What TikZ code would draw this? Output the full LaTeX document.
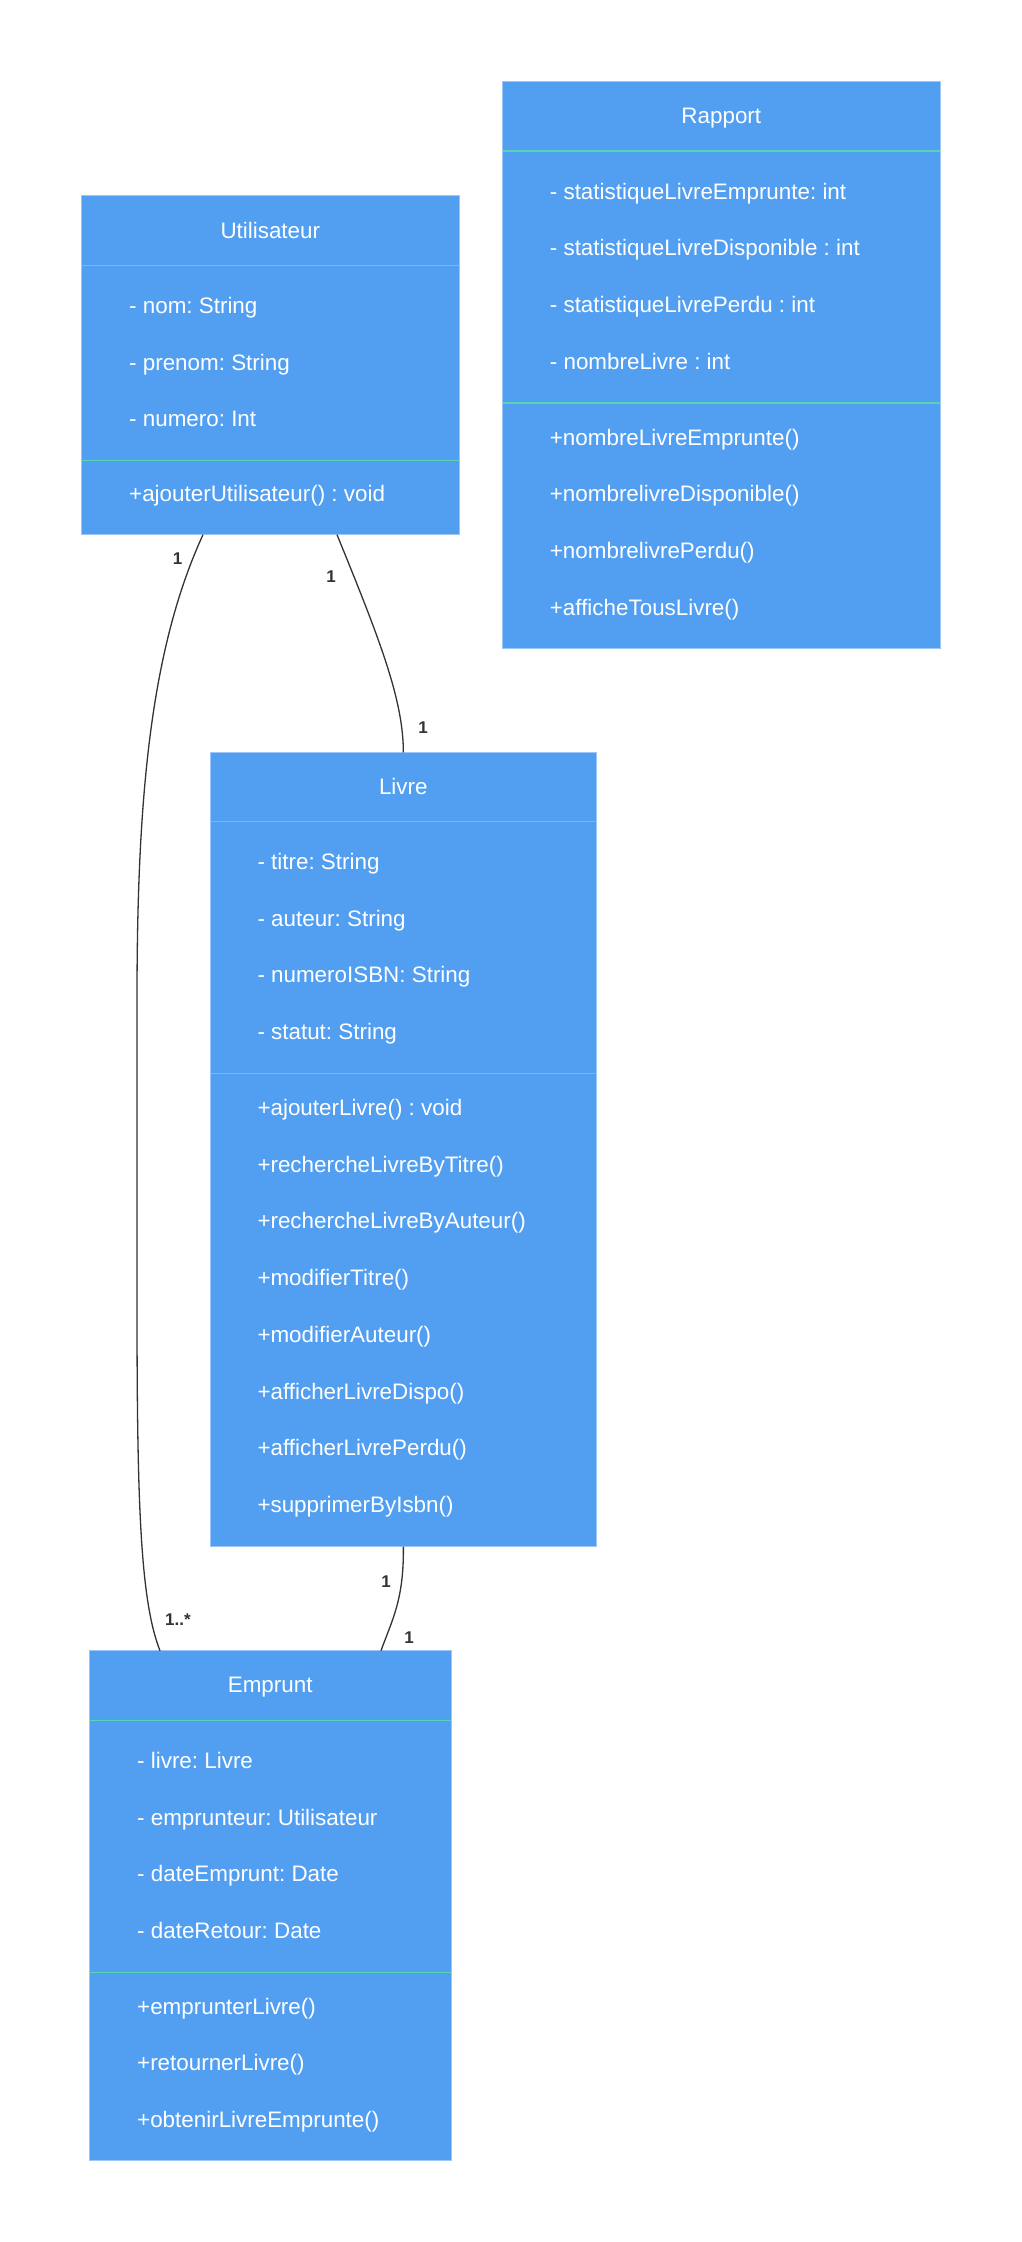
\documentclass[tikz,border=0pt]{standalone}
\usepackage{fontspec}
\setmainfont{Liberation Sans}
\frenchspacing
\definecolor{boxfill}{HTML}{529FF2}
\definecolor{boxline}{HTML}{9CC6F6}
\definecolor{sepline}{HTML}{56D3B4}
\definecolor{edgec}{HTML}{333333}
\begin{document}
\begin{tikzpicture}[x=1pt,y=-1pt,
  classbox/.style={draw=boxline, fill=boxfill, line width=0.8pt, inner sep=0pt, outer sep=0pt, anchor=north west},
  sepl/.style={draw=sepline, line width=1.3pt},
  ctitle/.style={text=white, font=\fontsize{22.4pt}{26pt}\selectfont, inner sep=0pt, anchor=base},
  member/.style={text=white, font=\fontsize{22.4pt}{26pt}\selectfont, inner sep=0pt, anchor=base west},
  conn/.style={draw=edgec, line width=1.3pt},
  mult/.style={text=edgec, font=\bfseries\fontsize{17pt}{20pt}\selectfont, inner sep=0pt}]
\useasboundingbox[fill=white] (0,0) rectangle (1021,2242);

% ---------------- Utilisateur ----------------
\node[classbox, minimum width=377.3pt, minimum height=339pt] (util) at (81.7,195.7) {};
\draw[sepl] (82.2,265.7) -- (458.5,265.7);
\draw[sepl] (82.2,460.7) -- (458.5,460.7);
\node[ctitle] (utilT) at (270.3,238.3) {Utilisateur};
\node[member] (utilA1) at (129,313.3) {- nom: String};
\node[member] (utilA2) at (129,370) {- prenom: String};
\node[member] (utilA3) at (129,426.7) {- numero: Int};
\node[member] (utilM1) at (129,501.7) {+ajouterUtilisateur() : void};

% ---------------- Rapport ----------------
\node[classbox, minimum width=437.3pt, minimum height=566.6pt] (rap) at (502.7,81.7) {};
\draw[sepl] (503.2,151) -- (939.5,151);
\draw[sepl] (503.2,403) -- (939.5,403);
\node[ctitle] (rapT) at (721.3,124) {Rapport};
\node[member] (rapA1) at (549.7,199.3) {- statistiqueLivreEmprunte: int};
\node[member] (rapA2) at (549.7,256) {- statistiqueLivreDisponible : int};
\node[member] (rapA3) at (549.7,312.7) {- statistiqueLivrePerdu : int};
\node[member] (rapA4) at (549.7,369.3) {- nombreLivre : int};
\node[member] (rapM1) at (549.7,445) {+nombreLivreEmprunte()};
\node[member] (rapM2) at (549.7,501.7) {+nombrelivreDisponible()};
\node[member] (rapM3) at (549.7,558.3) {+nombrelivrePerdu()};
\node[member] (rapM4) at (549.7,615) {+afficheTousLivre()};

% ---------------- Livre ----------------
\node[classbox, minimum width=386.7pt, minimum height=794.4pt] (livre) at (210,752.3) {};
\draw[sepl] (210.5,821.7) -- (596.2,821.7);
\draw[sepl] (210.5,1073.3) -- (596.2,1073.3);
\node[ctitle] (livT) at (403.3,794) {Livre};
\node[member] (livA1) at (257.3,869.3) {- titre: String};
\node[member] (livA2) at (257.3,926) {- auteur: String};
\node[member] (livA3) at (257.3,982.7) {- numeroISBN: String};
\node[member] (livA4) at (257.3,1039.3) {- statut: String};
\node[member] (livM1) at (257.3,1115.5) {+ajouterLivre() : void};
\node[member] (livM2) at (257.3,1172.2) {+rechercheLivreByTitre()};
\node[member] (livM3) at (257.3,1228.9) {+rechercheLivreByAuteur()};
\node[member] (livM4) at (257.3,1285.6) {+modifierTitre()};
\node[member] (livM5) at (257.3,1342.3) {+modifierAuteur()};
\node[member] (livM6) at (257.3,1399) {+afficherLivreDispo()};
\node[member] (livM7) at (257.3,1455.7) {+afficherLivrePerdu()};
\node[member] (livM8) at (257.3,1512.4) {+supprimerByIsbn()};

% ---------------- Emprunt ----------------
\node[classbox, minimum width=361.7pt, minimum height=509.3pt] (emp) at (89.3,1650.7) {};
\draw[sepl] (89.8,1720.7) -- (450.5,1720.7);
\draw[sepl] (89.8,1972.3) -- (450.5,1972.3);
\node[ctitle] (empT) at (270.2,1692.3) {Emprunt};
\node[member] (empA1) at (137,1768.3) {- livre: Livre};
\node[member] (empA2) at (137,1825) {- emprunteur: Utilisateur};
\node[member] (empA3) at (137,1881.7) {- dateEmprunt: Date};
\node[member] (empA4) at (137,1938.3) {- dateRetour: Date};
\node[member] (empM1) at (137,2014) {+emprunterLivre()};
\node[member] (empM2) at (137,2070.7) {+retournerLivre()};
\node[member] (empM3) at (137,2127.4) {+obtenirLivreEmprunte()};

% ---------------- connector end points ----------------
\path (util.south west) ++(121.3,0) coordinate (uL);
\path (util.south west) ++(255.3,0) coordinate (uR);
\coordinate (lT) at (livre.north);
\coordinate (lB) at (livre.south);
\path (emp.north west) ++(70.7,0) coordinate (eL);
\path (emp.north west) ++(291.7,0) coordinate (eR);

% ---------------- connectors ----------------
\draw[conn] (uL) .. controls (150,650) and (137,800) .. (137,1000)
  -- (137,1300) .. controls (137,1500) and (140,1600) .. (eL);
\draw[conn] (uR) .. controls (380,640) and (lT |- 0,700) .. (lT);
\draw[conn] (lB) .. controls (404,1600) and (392,1620) .. (eR);

% ---------------- multiplicities ----------------
\node[mult] (m1) at (177.7,559) {1};
\node[mult] (m2) at (331,577) {1};
\node[mult] (m3) at (423,728) {1};
\node[mult] (m4) at (178,1620) {1..*};
\node[mult] (m5) at (386,1582) {1};
\node[mult] (m6) at (409,1638) {1};
\end{tikzpicture}
\end{document}
